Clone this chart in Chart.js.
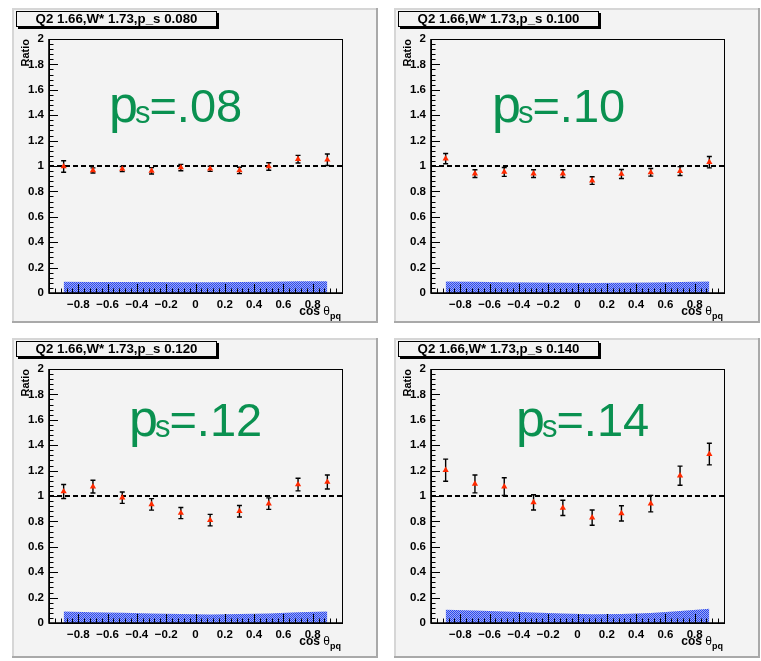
<!DOCTYPE html>
<html><head><meta charset="utf-8">
<script src="https://cdn.jsdelivr.net/npm/chart.js@4/dist/chart.umd.min.js"></script>
<style>
html,body{margin:0;padding:0;background:#ffffff;}
#wrap{position:relative;width:761px;height:661px;overflow:hidden;}
#wrap canvas{position:absolute;}
</style></head><body><div id="wrap"></div>
<script>
// ---------- data ----------
const cosTheta = [-0.9, -0.7, -0.5, -0.3, -0.1, 0.1, 0.3, 0.5, 0.7, 0.9];

const ratioPs080 = [0.996, 0.965, 0.976, 0.962, 0.988, 0.978, 0.965, 0.996, 1.054, 1.049];
const errPs080   = [0.045, 0.020, 0.020, 0.025, 0.025, 0.020, 0.025, 0.030, 0.030, 0.045];
const sysPs080   = [0.088, 0.087, 0.087, 0.086, 0.085, 0.085, 0.086, 0.088, 0.092, 0.093];

const ratioPs100 = [1.058, 0.940, 0.953, 0.940, 0.940, 0.885, 0.937, 0.950, 0.960, 1.030];
const errPs100   = [0.040, 0.030, 0.035, 0.030, 0.030, 0.030, 0.035, 0.030, 0.035, 0.045];
const sysPs100   = [0.090, 0.088, 0.085, 0.082, 0.080, 0.078, 0.080, 0.082, 0.086, 0.090];

const ratioPs120 = [1.035, 1.074, 0.987, 0.934, 0.866, 0.810, 0.880, 0.940, 1.090, 1.110];
const errPs120   = [0.055, 0.050, 0.045, 0.045, 0.044, 0.045, 0.045, 0.045, 0.050, 0.055];
const sysPs120   = [0.090, 0.085, 0.080, 0.075, 0.070, 0.066, 0.070, 0.075, 0.085, 0.090];

const ratioPs140 = [1.203, 1.095, 1.074, 0.950, 0.906, 0.830, 0.863, 0.940, 1.160, 1.330];
const errPs140   = [0.087, 0.070, 0.070, 0.060, 0.060, 0.060, 0.060, 0.065, 0.075, 0.085];
const sysPs140   = [0.105, 0.098, 0.090, 0.082, 0.075, 0.068, 0.070, 0.078, 0.095, 0.113];

const panelTitles = ['Q2 1.66,W* 1.73,p_s 0.080', 'Q2 1.66,W* 1.73,p_s 0.100',
                     'Q2 1.66,W* 1.73,p_s 0.120', 'Q2 1.66,W* 1.73,p_s 0.140'];
const panelLabels = ['.08', '.10', '.12', '.14'];
const yTickLabels = ['0', '0.2', '0.4', '0.6', '0.8', '1', '1.2', '1.4', '1.6', '1.8', '2'];
const xTickLabels = ['\u22120.8', '\u22120.6', '\u22120.4', '\u22120.2', '0', '0.2', '0.4', '0.6', '0.8'];
const yTitle = 'Ratio';
const xTitle = 'cos ';
const xTitleGreek = '\u03b8';
const xTitleSub = 'pq';
const refLevel = 1;

// ---------- layout / style ----------
const panels = [
  {ratio: ratioPs080, err: errPs080, sys: sysPs080, left: 0,   top: 0,   h: 330, padBottom: 323, lx: 109, ly: 122},
  {ratio: ratioPs100, err: errPs100, sys: sysPs100, left: 382, top: 0,   h: 330, padBottom: 323, lx: 110, ly: 122},
  {ratio: ratioPs120, err: errPs120, sys: sysPs120, left: 0,   top: 330, h: 331, padBottom: 328, lx: 129, ly: 106},
  {ratio: ratioPs140, err: errPs140, sys: sysPs140, left: 382, top: 330, h: 331, padBottom: 328, lx: 134, ly: 106},
];
const PAD = '#f3f3f3';
const FONT = '"Liberation Sans", Arial, Helvetica, sans-serif';
const GREEN = '#0a9150';

function makePattern() {
  const pc = document.createElement('canvas');
  pc.width = 2; pc.height = 2;
  const p = pc.getContext('2d');
  p.fillStyle = '#9eaaf4'; p.fillRect(0, 0, 2, 2);
  p.fillStyle = '#2a48ee'; p.fillRect(0, 0, 1, 1); p.fillRect(1, 1, 1, 1);
  return pc;
}
const patternCanvas = makePattern();

const rootPlugin = {
  id: 'rootStyle',
  beforeDraw(chart) {
    const ctx = chart.ctx, o = chart.options.plugins.rootStyle;
    const W = chart.width, H = chart.height;
    ctx.save();
    ctx.fillStyle = '#ffffff'; ctx.fillRect(0, 0, W, H);
    const x0 = 12, y0 = 8, x1 = 378, y1 = o.padBottom;
    ctx.fillStyle = PAD; ctx.fillRect(x0, y0, x1 - x0, y1 - y0);
    ctx.fillStyle = '#d6d6d6';
    ctx.fillRect(x0, y0, x1 - x0, 2);
    ctx.fillRect(x0, y0, 2, y1 - y0);
    ctx.fillStyle = '#a9a9a9';
    ctx.fillRect(x1 - 2, y0, 2, y1 - y0);
    ctx.fillRect(x0, y1 - 2, x1 - x0, 2);
    ctx.restore();
  },
  beforeDatasetDraw(chart, args) {
    const ds = chart.data.datasets[args.index];
    if (!ds.errs) return;
    const ctx = chart.ctx, xs = chart.scales.x, ys = chart.scales.y;
    ctx.save();
    ctx.strokeStyle = '#000'; ctx.lineWidth = 1.4;
    ds.data.forEach((d, i) => {
      const px = xs.getPixelForValue(d.x);
      const yt = ys.getPixelForValue(d.y + ds.errs[i]);
      const yb = ys.getPixelForValue(d.y - ds.errs[i]);
      ctx.beginPath();
      ctx.moveTo(px, yt); ctx.lineTo(px, yb);
      ctx.moveTo(px - 2.5, yt); ctx.lineTo(px + 2.5, yt);
      ctx.moveTo(px - 2.5, yb); ctx.lineTo(px + 2.5, yb);
      ctx.stroke();
    });
    ctx.restore();
  },
  afterDraw(chart) {
    const ctx = chart.ctx, o = chart.options.plugins.rootStyle;
    const ca = chart.chartArea, xs = chart.scales.x, ys = chart.scales.y;
    ctx.save();
    ctx.strokeStyle = '#000'; ctx.lineWidth = 1;
    ctx.strokeRect(Math.round(ca.left) + 0.5, Math.round(ca.top) + 0.5,
                   Math.round(ca.right - ca.left), Math.round(ca.bottom - ca.top));
    ctx.lineWidth = 1.6;
    ctx.beginPath();
    ctx.moveTo(ca.left, ca.top); ctx.lineTo(ca.left, ca.bottom); ctx.lineTo(ca.right, ca.bottom);
    ctx.stroke();
    ctx.lineWidth = 1;
    ctx.beginPath();
    for (let i = 0; i <= 50; i++) {
      const v = ys.min + i * (ys.max - ys.min) / 50;
      const py = Math.round(ys.getPixelForValue(v)) + 0.5;
      const len = (i % 5 === 0) ? 9 : 4.5;
      ctx.moveTo(ca.left, py); ctx.lineTo(ca.left + len, py);
    }
    for (let i = 0; i <= 50; i++) {
      const v = xs.min + i * (xs.max - xs.min) / 50;
      const px = Math.round(xs.getPixelForValue(v)) + 0.5;
      const len = (i % 5 === 0) ? 9 : 4.5;
      ctx.moveTo(px, ca.bottom); ctx.lineTo(px, ca.bottom - len);
    }
    ctx.stroke();
    // title box
    const bx = 16, by = 11, bw = 201, bh = 16;
    ctx.fillStyle = '#000'; ctx.fillRect(bx + 2, by + 2, bw, bh);
    ctx.fillStyle = PAD; ctx.fillRect(bx, by, bw, bh);
    ctx.strokeStyle = '#000'; ctx.lineWidth = 1;
    ctx.strokeRect(bx + 0.5, by + 0.5, bw - 1, bh - 1);
    ctx.fillStyle = '#000';
    ctx.font = 'bold 13.3px ' + FONT;
    ctx.textAlign = 'center'; ctx.textBaseline = 'middle';
    ctx.fillText(o.title, bx + bw / 2, by + bh / 2 + 0.5);
    // y title
    ctx.save();
    ctx.translate(29, ca.top);
    ctx.rotate(-Math.PI / 2);
    ctx.font = 'bold 11px ' + FONT;
    ctx.textAlign = 'right'; ctx.textBaseline = 'alphabetic';
    ctx.fillText(yTitle, 0, 0);
    ctx.restore();
    // x title
    ctx.textAlign = 'left'; ctx.textBaseline = 'alphabetic';
    ctx.font = 'bold 12px ' + FONT; const w1 = ctx.measureText(xTitle).width;
    ctx.font = '12px ' + FONT; const w2 = ctx.measureText(xTitleGreek).width;
    ctx.font = 'bold 9px ' + FONT; const w3 = ctx.measureText(xTitleSub).width;
    let tx = ca.right - 1 - (w1 + w2 + w3);
    const tb = ca.bottom + 22;
    ctx.font = 'bold 12px ' + FONT; ctx.fillText(xTitle, tx, tb); tx += w1;
    ctx.font = '12px ' + FONT; ctx.fillText(xTitleGreek, tx, tb); tx += w2;
    ctx.font = 'bold 9px ' + FONT; ctx.fillText(xTitleSub, tx, tb + 4);
    // big label
    ctx.fillStyle = GREEN;
    let gx = o.lx;
    ctx.font = '52px ' + FONT; ctx.fillText('p', gx, o.ly); gx += ctx.measureText('p').width - 3;
    ctx.font = '31px ' + FONT; ctx.fillText('s', gx, o.ly + 1); gx += ctx.measureText('s').width - 1;
    ctx.font = '47px ' + FONT; ctx.fillText('=' + o.label, gx, o.ly);
    ctx.restore();
  }
};

const wrap = document.getElementById('wrap');
panels.forEach((pn, k) => {
  const cv = document.createElement('canvas');
  cv.width = 380; cv.height = pn.h;
  cv.style.left = pn.left + 'px'; cv.style.top = pn.top + 'px';
  cv.style.width = '380px'; cv.style.height = pn.h + 'px';
  wrap.appendChild(cv);
  const ctx = cv.getContext('2d');
  const pattern = ctx.createPattern(patternCanvas, 'repeat');
  new Chart(cv, {
    type: 'scatter',
    data: {
      datasets: [
        {
          type: 'scatter',
          data: cosTheta.map((x, i) => ({x: x, y: pn.ratio[i]})),
          errs: pn.err,
          pointStyle: 'triangle', pointRadius: 3.6,
          backgroundColor: '#ff2a00', borderColor: '#ff2a00', borderWidth: 0,
          order: 0
        },
        {
          type: 'line',
          data: [{x: -1, y: refLevel}, {x: 1, y: refLevel}],
          borderColor: '#000', borderWidth: 2, borderDash: [5, 3],
          pointRadius: 0, fill: false, order: 1
        },
        {
          type: 'line',
          data: cosTheta.map((x, i) => ({x: x, y: pn.sys[i]})),
          borderWidth: 0, borderColor: 'rgba(0,0,0,0)', pointRadius: 0,
          backgroundColor: pattern, fill: 'origin', tension: 0, order: 2
        }
      ]
    },
    options: {
      responsive: false, animation: false, devicePixelRatio: 1,
      layout: {padding: {left: 0, top: 39, right: 38, bottom: pn.h - 293 - 30}},
      plugins: {
        legend: {display: false}, tooltip: {enabled: false},
        rootStyle: {title: panelTitles[k], label: panelLabels[k], padBottom: pn.padBottom, lx: pn.lx, ly: pn.ly}
      },
      scales: {
        x: {
          type: 'linear', min: -1, max: 1,
          grid: {display: false, drawTicks: false, tickLength: 0}, border: {display: false},
          afterFit(s) { s.height = 30; },
          ticks: {
            stepSize: 0.2, autoSkip: false, maxRotation: 0, padding: 5,
            color: '#000', font: {family: FONT, size: 11.5, weight: 'bold'},
            callback: (v, i) => (i === 0 || i === 10) ? '' : xTickLabels[i - 1]
          }
        },
        y: {
          type: 'linear', min: 0, max: 2,
          grid: {display: false, drawTicks: false, tickLength: 0}, border: {display: false},
          afterFit(s) { s.width = 49; },
          ticks: {
            stepSize: 0.2, autoSkip: false, padding: 5,
            color: '#000', font: {family: FONT, size: 11.5, weight: 'bold'},
            callback: (v, i) => yTickLabels[i]
          }
        }
      }
    },
    plugins: [rootPlugin]
  });
});
</script>
</body></html>
